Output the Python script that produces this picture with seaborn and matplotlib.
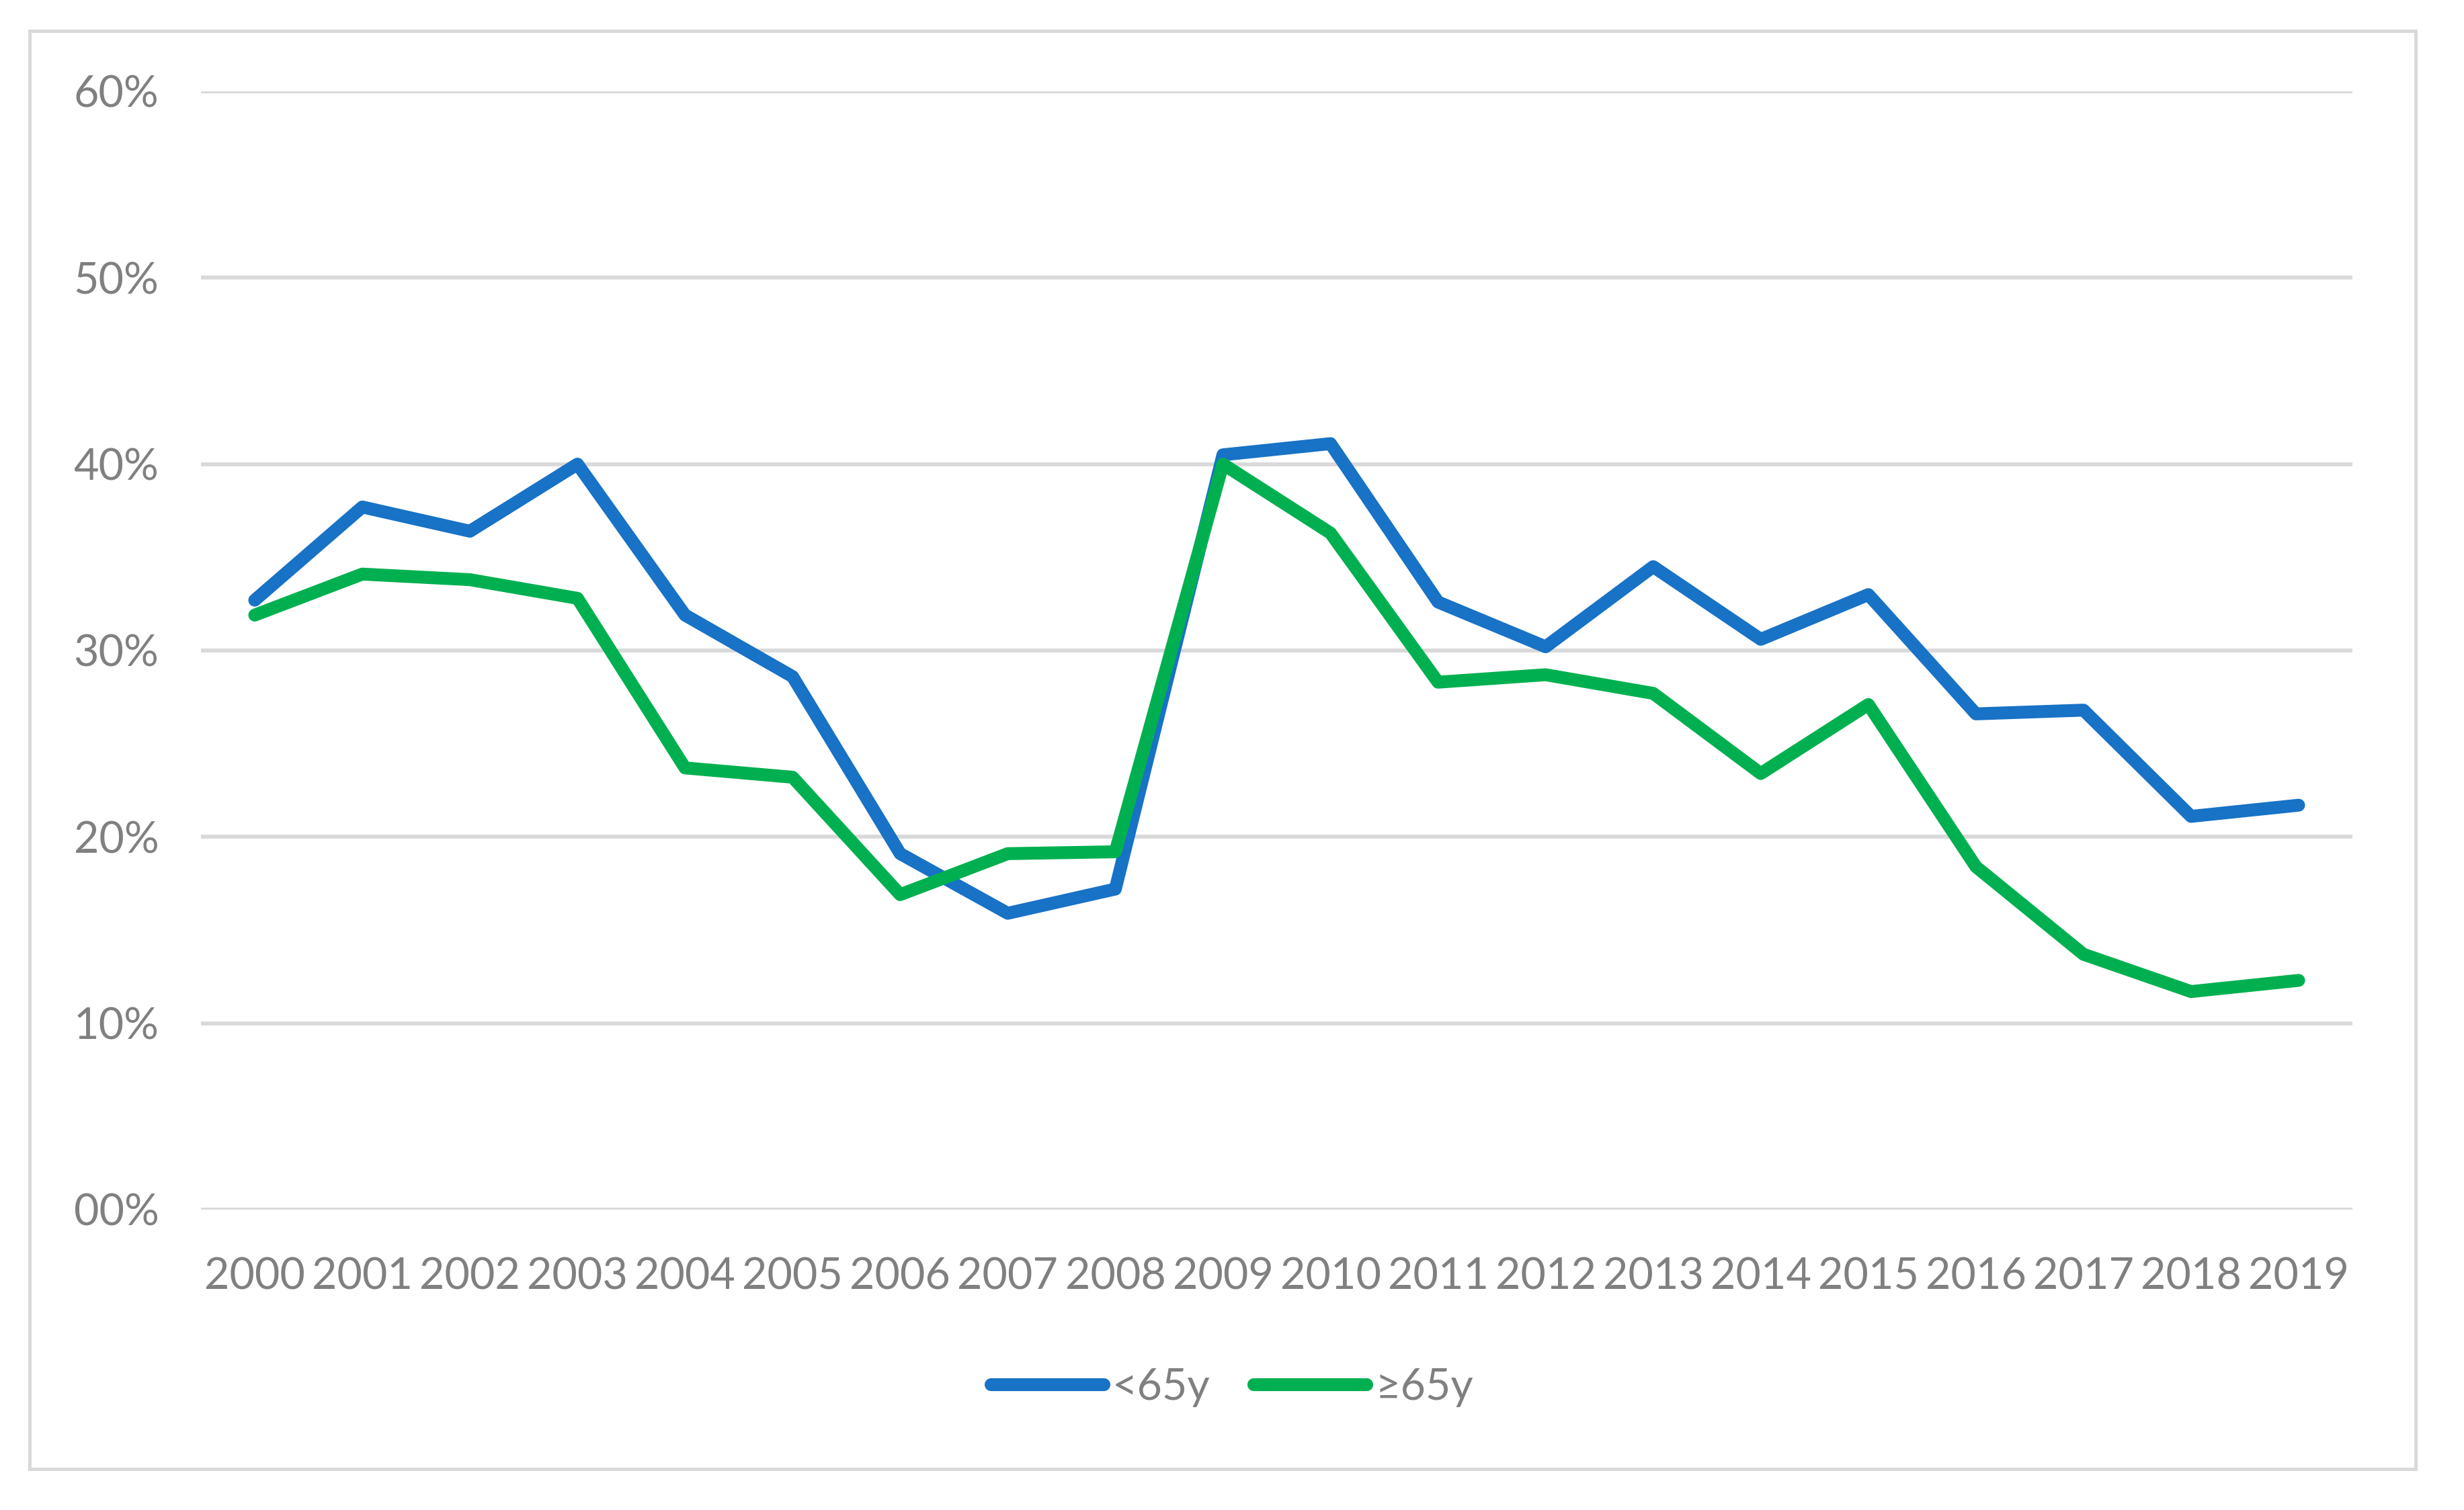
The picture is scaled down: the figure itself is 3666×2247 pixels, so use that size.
import numpy as np
import pandas as pd
import matplotlib
matplotlib.use('Agg')
import matplotlib.pyplot as plt
import matplotlib.patches as mpatches
import seaborn as sns

years = list(range(2000, 2020))
under65 = [0.327, 0.377, 0.364, 0.400, 0.319, 0.286, 0.191, 0.159, 0.172, 0.405,
           0.411, 0.326, 0.302, 0.345, 0.306, 0.330, 0.266, 0.268, 0.211, 0.217]
over65 = [0.319, 0.341, 0.338, 0.328, 0.237, 0.232, 0.169, 0.191, 0.192, 0.400,
          0.363, 0.283, 0.287, 0.277, 0.234, 0.271, 0.184, 0.137, 0.117, 0.123]
series_names = ['<65y', '≥65y']
colors = ['#1872C6', '#00B050']
yticks = [0.0, 0.1, 0.2, 0.3, 0.4, 0.5, 0.6]

TEXT = '#808080'
GRID = '#D9D9D9'

sns.set_style('white')
plt.rcParams['font.family'] = ['Lato', 'DejaVu Sans']

df = pd.DataFrame({
    'year': years * 2,
    'value': under65 + over65,
    'group': [series_names[0]] * len(years) + [series_names[1]] * len(years),
})

W, H, DPI = 3666, 2247, 300
fig = plt.figure(figsize=(W / DPI, H / DPI), dpi=DPI)

# outer chart border
fig.patches.append(mpatches.Rectangle(
    (44 / W, (H - 2186) / H), (3594 - 44) / W, (2186 - 46) / H,
    transform=fig.transFigure, fill=False, edgecolor=GRID, linewidth=1.2,
    zorder=0))

ax = fig.add_axes([299 / W, (H - 1800) / H, (3500 - 299) / W, (1800 - 136) / H])

sns.lineplot(data=df, x='year', y='value', hue='group', palette=colors,
             hue_order=series_names, linewidth=4.6, ax=ax, legend=True,
             solid_joinstyle='round', solid_capstyle='round', zorder=3)

ax.set_xlim(1999.5, 2019.5)
ax.set_ylim(0, 0.6)
ax.set_xticks(years)
ax.set_xticklabels([str(y) for y in years])
ax.set_yticks(yticks)
ax.set_yticklabels([f'{v * 100:02.0f}%' for v in yticks])
ax.tick_params(axis='both', length=0, labelsize=15.5, labelcolor=TEXT)
ax.tick_params(axis='y', pad=15)
ax.tick_params(axis='x', pad=17)
ax.set_xlabel('')
ax.set_ylabel('')
for s in ax.spines.values():
    s.set_visible(False)
ax.yaxis.grid(True, color=GRID, linewidth=1.4)
ax.xaxis.grid(False)
ax.set_axisbelow(True)

handles, labels = ax.get_legend_handles_labels()
ax.legend_.remove()
for h in handles:
    h.set_solid_capstyle('round')
leg = fig.legend(handles, labels, loc='center', bbox_to_anchor=(0.5, (H - 2064) / H),
                 ncol=2, frameon=False, fontsize=15.5, handlelength=2.6,
                 handletextpad=0.2, columnspacing=1.0)
for t in leg.get_texts():
    t.set_color(TEXT)

fig.savefig('out.png', dpi=DPI, facecolor='white')
